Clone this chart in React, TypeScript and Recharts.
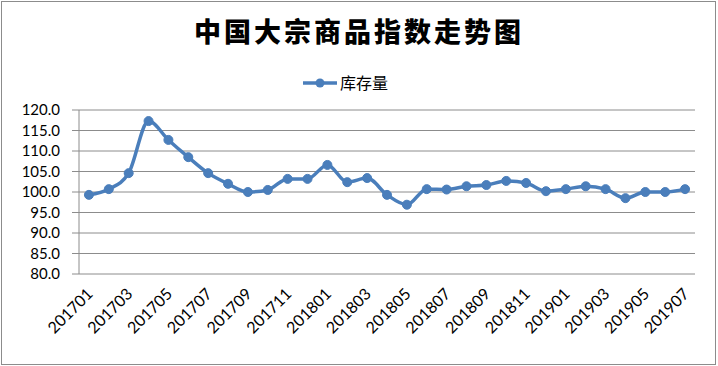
import React from 'react';
import { LineChart, Line, XAxis, YAxis, CartesianGrid } from 'recharts';

const title = '中国大宗商品指数走势图';
const seriesName = '库存量';

const months = [
  '201701', '201702', '201703', '201704', '201705', '201706', '201707', '201708', '201709', '201710', '201711', '201712',
  '201801', '201802', '201803', '201804', '201805', '201806', '201807', '201808', '201809', '201810', '201811', '201812',
  '201901', '201902', '201903', '201904', '201905', '201906', '201907',
];

const stockIndex = [
  99.3, 100.7, 104.6, 117.3, 112.7, 108.5, 104.6, 102.0, 100.0, 100.5, 103.2, 103.2,
  106.6, 102.4, 103.4, 99.3, 96.9, 100.7, 100.6, 101.4, 101.7, 102.7, 102.2, 100.2,
  100.7, 101.4, 100.7, 98.5, 100.0, 100.0, 100.7,
];

const yTicks = [80, 85, 90, 95, 100, 105, 110, 115, 120];

const BLUE = '#4a7ebb';
const GRID = '#8c8c8c';
const FONT = 'Lato, "Open Sans", sans-serif';

// points sit in the middle of each category, tick marks on the boundaries (Excel style)
const chartData = months.map((month, i) => ({ pos: i + 0.5, month, value: stockIndex[i] }));
const boundaryTicks = months.map((_, i) => i).concat(months.length);
const labelTicks = months.map((_, i) => i + 0.5).filter((_, i) => i % 2 === 0);

const MonthTick = (props: any) => {
  const { x, y, payload } = props;
  const label = months[Math.floor(payload.value)];
  return (
    <text
      transform={`translate(${x + 5},${y + 21}) rotate(-45)`}
      textAnchor="end"
      fontSize={16}
      fontFamily={FONT}
      fill="#000"
    >
      {label}
    </text>
  );
};

const App: React.FC = () => {
  return (
    <div style={{ position: 'relative', width: 718, height: 366, background: '#fff', fontFamily: FONT }}>
      <style>{'body{margin:0}'}</style>
      <div
        style={{
          position: 'absolute', left: 1, top: 1, width: 713, height: 362,
          border: `1px solid ${GRID}`, pointerEvents: 'none',
        }}
      />

      {/* Title */}
      <div
        style={{
          position: 'absolute', top: 13, left: 0, width: 718, textAlign: 'center',
          fontFamily: '"Noto Sans CJK SC", sans-serif', fontWeight: 900, fontSize: 27,
          letterSpacing: 3, color: '#000', lineHeight: '36px',
        }}
      >
        {title}
      </div>

      {/* Legend */}
      <div style={{ position: 'absolute', top: 71, left: 303, display: 'flex', alignItems: 'center', height: 22 }}>
        <svg width={35} height={22}>
          <line x1={0} y1={12} x2={34} y2={12} stroke={BLUE} strokeWidth={3.5} />
          <circle cx={17} cy={12} r={4.5} fill={BLUE} />
        </svg>
        <span style={{ fontFamily: '"Noto Sans CJK SC", sans-serif', fontSize: 16, marginLeft: 2, color: '#000' }}>
          {seriesName}
        </span>
      </div>

      <div style={{ position: 'absolute', left: 0, top: 0 }}>
        <LineChart width={718} height={366} data={chartData} margin={{ top: 110, right: 23, bottom: 0, left: 0 }}>
          <CartesianGrid horizontal vertical={false} stroke={GRID} strokeWidth={1} />
          <XAxis
            xAxisId="main"
            dataKey="pos"
            type="number"
            domain={[0, months.length]}
            ticks={boundaryTicks}
            interval={0}
            height={0}
            tick={false}
            tickSize={5}
            axisLine={{ stroke: GRID }}
            tickLine={{ stroke: GRID }}
          />
          <XAxis
            xAxisId="labels"
            dataKey="pos"
            type="number"
            domain={[0, months.length]}
            ticks={labelTicks}
            interval={0}
            height={92}
            axisLine={false}
            tickLine={false}
            tickSize={0}
            tickMargin={0}
            tick={<MonthTick />}
          />
          <YAxis
            type="number"
            domain={[80, 120]}
            ticks={yTicks}
            interval={0}
            width={79}
            tickFormatter={(v: number) => v.toFixed(1)}
            tick={{ fontSize: 15, fontFamily: FONT, fill: '#000' }}
            tickSize={7}
            tickMargin={12}
            axisLine={{ stroke: GRID }}
            tickLine={{ stroke: GRID }}
          />
          <Line
            xAxisId="main"
            type="monotone"
            dataKey="value"
            name={seriesName}
            stroke={BLUE}
            strokeWidth={3.5}
            dot={{ r: 4.5, fill: BLUE, stroke: BLUE, strokeWidth: 1 }}
            activeDot={false}
            isAnimationActive={false}
          />
        </LineChart>
      </div>
    </div>
  );
};

export default App;
